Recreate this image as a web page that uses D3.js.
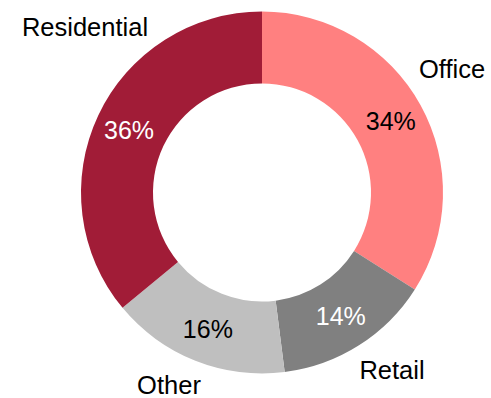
<!DOCTYPE html>
<html>
<head>
<meta charset="utf-8">
<script src="https://cdn.jsdelivr.net/npm/d3@7"></script>
<style>
  html, body { margin: 0; padding: 0; background: #fff; }
  text { font-family: Arial, "Liberation Sans", sans-serif; }
</style>
</head>
<body>
<svg></svg>
<script>
var width = 491;
var height = 398;

// data
var categories = ["Office", "Retail", "Other", "Residential"];
var values = [34, 14, 16, 36];
var colors = ["#FF8080", "#808080", "#BFBFBF", "#A11C37"];
var pctColors = ["#000", "#fff", "#000", "#fff"];

// where excel put the category labels (offset from centre, baseline)
var labelOffset = {
  "Office": [190, -115],
  "Retail": [130, 186],
  "Other": [-93, 201],
  "Residential": [-177, -157]
};

var cx = 262, cy = 192.5;
var outerR = 181, innerR = 109;

var svg = d3.select("svg")
  .attr("width", width)
  .attr("height", height);

var g = svg.append("g")
  .attr("transform", "translate(" + cx + "," + cy + ")");

var pie = d3.pie().sort(null).value(function(d) { return d; });
var arcs = pie(values);

var arc = d3.arc().innerRadius(innerR).outerRadius(outerR);
var labelArc = d3.arc().innerRadius(147).outerRadius(147);

g.selectAll("path")
  .data(arcs)
  .enter().append("path")
  .attr("d", arc)
  .attr("fill", function(d, i) { return colors[i]; });

g.selectAll("text.pct")
  .data(arcs)
  .enter().append("text")
  .attr("class", "pct")
  .attr("transform", function(d) { return "translate(" + labelArc.centroid(d) + ")"; })
  .attr("text-anchor", "middle")
  .attr("dy", "0.35em")
  .attr("font-size", 25)
  .attr("fill", function(d, i) { return pctColors[i]; })
  .text(function(d) { return d.value + "%"; });

g.selectAll("text.cat")
  .data(categories)
  .enter().append("text")
  .attr("class", "cat")
  .attr("x", function(d) { return labelOffset[d][0]; })
  .attr("y", function(d) { return labelOffset[d][1]; })
  .attr("text-anchor", "middle")
  .attr("font-size", 25.5)
  .attr("fill", "#000")
  .text(function(d) { return d; });
</script>
</body>
</html>
